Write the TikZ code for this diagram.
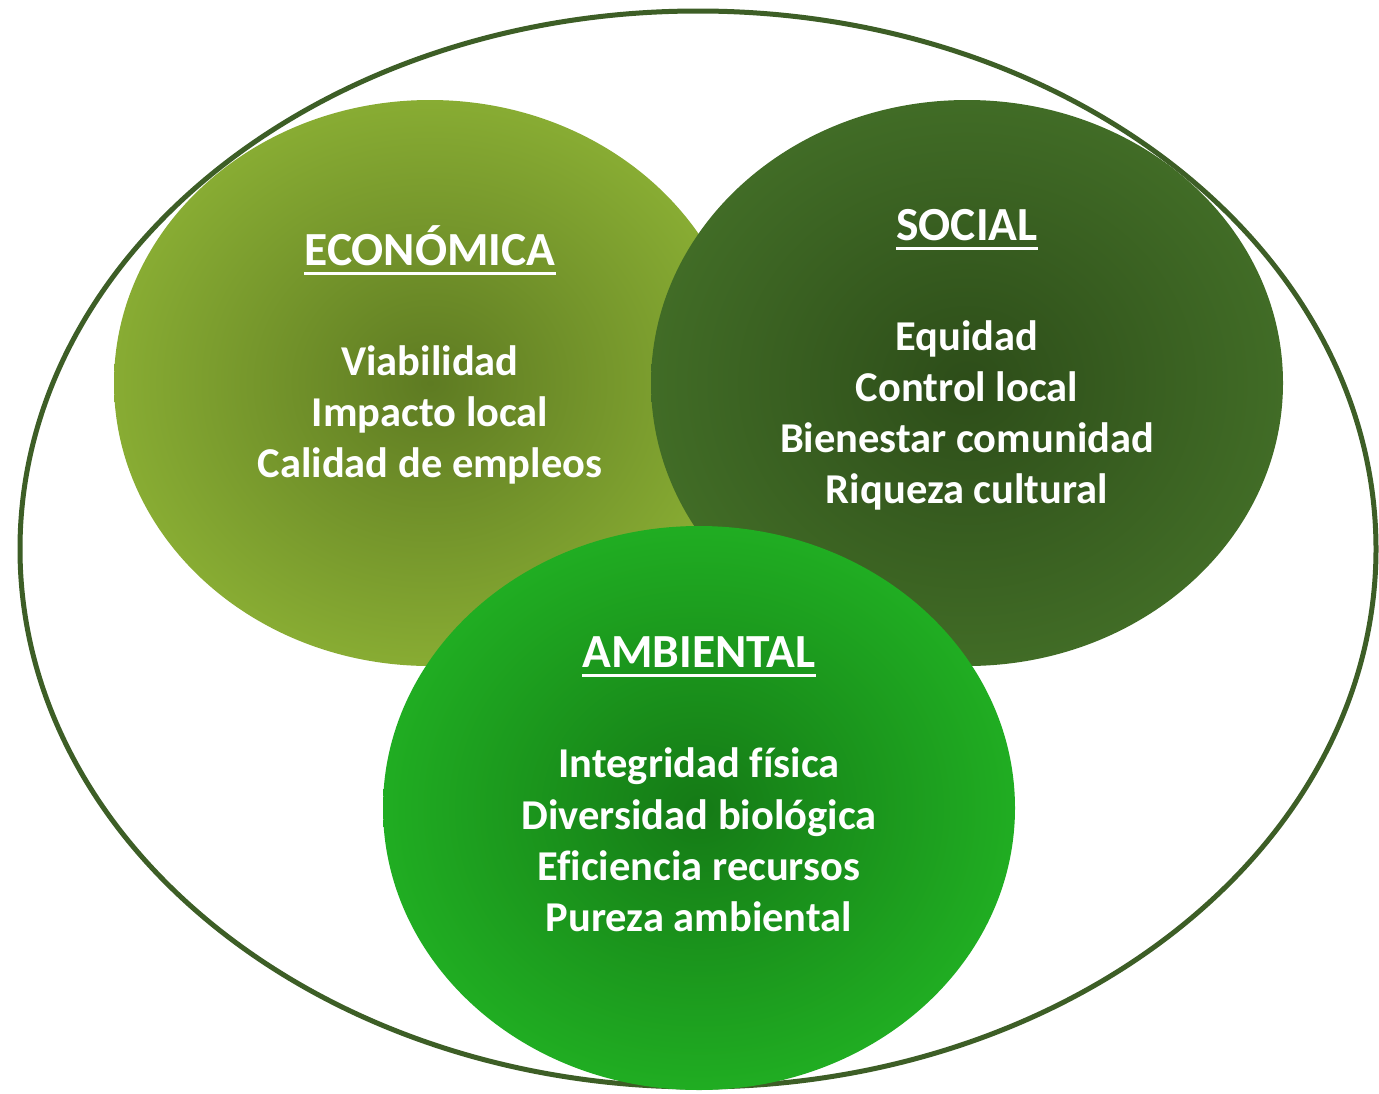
\documentclass[tikz,border=0pt]{standalone}
\usepackage{fontspec}
\setmainfont{Carlito}[Ligatures=NoCommon]
\begin{document}
\begin{tikzpicture}[x=1pt,y=-1pt,
  title/.style={inner sep=0pt,anchor=base,text=white,font=\bfseries\fontsize{47.5}{56}\selectfont},
  item/.style={inner sep=0pt,anchor=base,text=white,font=\bfseries\fontsize{42.5}{50}\selectfont},
  uline/.style={draw=white,line width=3pt}]
\definecolor{rim}{HTML}{3D5E26}
\definecolor{ecoout}{HTML}{88AC33}
\definecolor{ecoin}{HTML}{5E7B22}
\definecolor{socout}{HTML}{416C26}
\definecolor{socin}{HTML}{2D4D19}
\definecolor{ambout}{HTML}{20AD22}
\definecolor{ambin}{HTML}{157A16}
\useasboundingbox (0,0) rectangle (1379,1093);
\fill[white] (0,0) rectangle (1379,1093);
\draw[rim,line width=5pt] (698,549) ellipse [x radius=678,y radius=538];
\shade[inner color=ecoin,outer color=ecoout] (430,383) ellipse [x radius=316,y radius=283];
\shade[inner color=socin,outer color=socout] (967,383) ellipse [x radius=316,y radius=283];
\shade[inner color=ambin,outer color=ambout] (699,808) ellipse [x radius=316,y radius=282];
% Economica
\node[title] (te) at (430,265) {ECONÓMICA};
\draw[uline] ([yshift=-8]te.base west) -- ([yshift=-8]te.base east);
\node[item] (e1) at (430,375) {Viabilidad};
\node[item] (e2) at (430,426) {Impacto local};
\node[item] (e3) at (430,477) {Calidad de empleos};
% Social
\node[title] (ts) at (967,240) {SOCIAL};
\draw[uline] ([yshift=-8]ts.base west) -- ([yshift=-8]ts.base east);
\node[item] (s1) at (967,350) {Equidad};
\node[item] (s2) at (967,401) {Control local};
\node[item] (s3) at (967,452) {Bienestar comunidad};
\node[item] (s4) at (967,503) {Riqueza cultural};
% Ambiental
\node[title] (ta) at (699,667) {AMBIENTAL};
\draw[uline] ([yshift=-8]ta.base west) -- ([yshift=-8]ta.base east);
\node[item] (a1) at (699,777) {Integridad física};
\node[item] (a2) at (699,829) {Diversidad biológica};
\node[item] (a3) at (699,880) {Eficiencia recursos};
\node[item] (a4) at (699,931) {Pureza ambiental};
\end{tikzpicture}
\end{document}
